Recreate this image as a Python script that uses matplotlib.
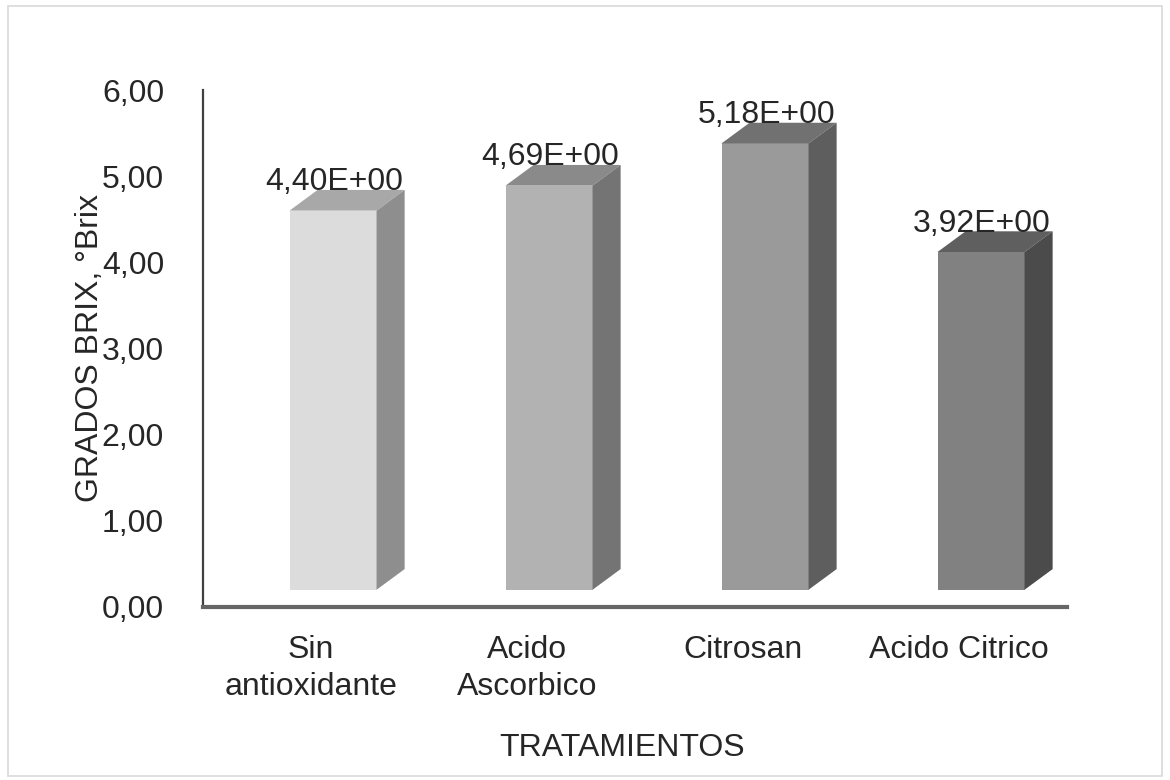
import matplotlib
matplotlib.use("Agg")
import matplotlib.pyplot as plt
from matplotlib.patches import Polygon, Rectangle

categories = ["Sin\nantioxidante", "Acido\nAscorbico", "Citrosan", "Acido Citrico"]
values = [4.40, 4.69, 5.18, 3.92]
value_labels = ["4,40E+00", "4,69E+00", "5,18E+00", "3,92E+00"]
yticks = [0, 1, 2, 3, 4, 5, 6]
ytick_labels = ["0,00", "1,00", "2,00", "3,00", "4,00", "5,00", "6,00"]

front_colors = ["#dcdcdc", "#b2b2b2", "#9a9a9a", "#818181"]
top_colors = ["#a8a8a8", "#8a8a8a", "#717171", "#5f5f5f"]
side_colors = ["#8e8e8e", "#747474", "#5e5e5e", "#4b4b4b"]

plt.rcParams['font.family'] = ['Liberation Sans', 'DejaVu Sans']

fig = plt.figure(figsize=(11.7, 7.8), dpi=100)
ax = fig.add_axes([203/1170, 1 - 607/780, (1067 - 203)/1170, (607 - 90)/780])

base = 0.2      # floor offset
shift = 0.102   # front face shift to the right of category centre
width = 0.403
dx = 0.13
dy = 0.24

xs = list(range(len(categories)))
centers = [x + shift for x in xs]
ax.bar(centers, values, width=width, bottom=base, color=front_colors,
       edgecolor='none', zorder=3)
for i, (c, v) in enumerate(zip(centers, values)):
    l, r = c - width / 2, c + width / 2
    t = base + v
    ax.add_patch(Polygon([(l, t), (r, t), (r + dx, t + dy), (l + dx, t + dy)],
                         closed=True, facecolor=top_colors[i], edgecolor='none', zorder=3))
    ax.add_patch(Polygon([(r, base), (r + dx, base + dy), (r + dx, t + dy), (r, t)],
                         closed=True, facecolor=side_colors[i], edgecolor='none', zorder=3))
    ax.text(c + 0.005, t + dy + 0.09, value_labels[i], ha='center', va='center',
            fontsize=23, color='#262626', zorder=4)

ax.set_xlim(-0.5, 3.5)
ax.set_ylim(0, 6)
ax.set_xticks(xs)
ax.set_xticklabels(categories, fontsize=23, color='#262626', linespacing=1.3)
ax.set_yticks(yticks)
ax.set_yticklabels(ytick_labels, fontsize=23, color='#262626')
ax.tick_params(axis='both', length=0)
ax.tick_params(axis='y', pad=28)
ax.tick_params(axis='x', pad=20)

for s in ['top', 'right']:
    ax.spines[s].set_visible(False)
ax.spines['left'].set_color('#404040')
ax.spines['left'].set_linewidth(1.6)
ax.spines['bottom'].set_color('#666666')
ax.spines['bottom'].set_linewidth(3)

ax.set_ylabel("GRADOS BRIX, °Brix", fontsize=23, color='#262626')
ax.yaxis.set_label_coords(-0.114, 0.5)
ax.set_xlabel("TRATAMIENTOS", fontsize=23, color='#262626')
ax.xaxis.set_label_coords(0.485, -0.244)

fig.patches.append(Rectangle((8/1170, 4/780), 1154/1170, 770/780, transform=fig.transFigure,
                             fill=False, edgecolor='#d9d9d9', linewidth=1.2))

fig.savefig("out.png", dpi=100)
